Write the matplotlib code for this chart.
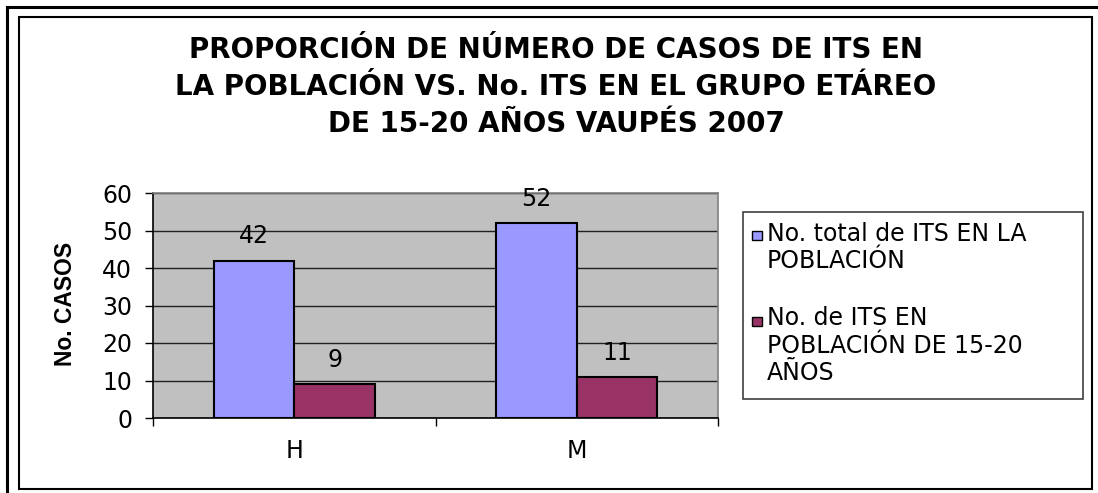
import matplotlib
matplotlib.use("Agg")
import matplotlib.pyplot as plt
from matplotlib.patches import Rectangle
from matplotlib.lines import Line2D

plt.rcParams['font.family'] = ['DejaVu Sans']

# ---- data ----
categories = ["H", "M"]
series_names = ["No. total de ITS EN LA\nPOBLACIÓN",
                "No. de ITS EN\nPOBLACIÓN DE 15-20\nAÑOS"]
total_its = [42, 52]
its_15_20 = [9, 11]
y_ticks = [0, 10, 20, 30, 40, 50, 60]
title = ("PROPORCIÓN DE NÚMERO DE CASOS DE ITS EN\n"
         "LA POBLACIÓN VS. No. ITS EN EL GRUPO ETÁREO\n"
         "DE 15-20 AÑOS VAUPÉS 2007")
ylabel = "No. CASOS"

colors = ["#9999FF", "#993366"]

W, H = 1098, 493
fig = plt.figure(figsize=(W / 100, H / 100), dpi=100)
fig.patch.set_facecolor("white")

def fx(px):
    return px / W

def fy(py):
    return 1 - py / H

# borders
fig.add_artist(Line2D([fx(7), fx(1098)], [fy(7), fy(7)], color="black", lw=2.2))
fig.add_artist(Line2D([fx(7), fx(7)], [fy(7), fy(493)], color="black", lw=2.2))
fig.add_artist(Rectangle((fx(19), fy(489)), fx(1092) - fx(19), fy(17) - fy(489),
                         fill=False, edgecolor="black", lw=1.5))

# plot area
left, right, top, bottom = 153, 718, 193, 418
ax = fig.add_axes([fx(left), fy(bottom), fx(right) - fx(left), fy(top) - fy(bottom)])
ax.set_facecolor("#C0C0C0")

n = len(categories)
bw = 1 / 3.5
centers = [i + 0.5 for i in range(n)]
series = [total_its, its_15_20]
for s, (vals, col) in enumerate(zip(series, colors)):
    xs = [c + (s - 0.5) * bw for c in centers]
    ax.bar(xs, vals, width=bw, color=col, edgecolor="black", linewidth=1.5, zorder=3)
    for x, v in zip(xs, vals):
        ax.annotate(str(v), (x, v), xytext=(0, 12.3), textcoords="offset points",
                    ha="center", va="baseline", fontsize=17, color="black", zorder=4)

ax.set_xlim(0, n)
ax.set_ylim(0, 60)
ax.set_yticks(y_ticks)
ax.set_yticklabels([str(t) for t in y_ticks], fontsize=17)
ax.yaxis.grid(True, color="#202020", lw=1.0, zorder=1)
ax.set_axisbelow(True)

ax.set_xticks(range(n + 1))
ax.set_xticklabels([""] * (n + 1))
ax.set_xticks(centers, minor=True)
ax.set_xticklabels(categories, minor=True, fontsize=17)
ax.tick_params(axis="x", which="major", direction="out", length=6, width=1, color="black")
ax.tick_params(axis="x", which="minor", length=0, pad=15)
ax.tick_params(axis="y", direction="out", length=6, width=1, color="black", pad=9)

for sp in ["left", "bottom"]:
    ax.spines[sp].set_color("black")
    ax.spines[sp].set_linewidth(1.2)
for sp in ["top", "right"]:
    ax.spines[sp].set_color("#808080")
    ax.spines[sp].set_linewidth(1.2)

fig.text(fx(65), fy(304), ylabel, rotation=90, ha="center", va="center",
         fontsize=16.5, fontweight="bold", family="Liberation Sans")

fig.text(fx(556), fy(87), title, ha="center", va="center", fontsize=20,
         fontweight="bold", linespacing=1.43)

# legend (manual)
fig.add_artist(Rectangle((fx(743), fy(399)), fx(1083) - fx(743), fy(212) - fy(399),
                         facecolor="white", edgecolor="#404040", lw=1.2))
entry_base = [242, 328]
line_step = 26
for name, col, eb in zip(series_names, colors, entry_base):
    fig.add_artist(Rectangle((fx(752), fy(eb - 2)), fx(762) - fx(752), fy(eb - 11) - fy(eb - 2),
                             facecolor=col, edgecolor="black", lw=1.0))
    last_base = eb + line_step * name.count("\n")
    fig.text(fx(767), fy(last_base), name, ha="left", va="baseline", fontsize=17,
             linespacing=1.18)

fig.savefig("out.png", dpi=100, facecolor="white")
